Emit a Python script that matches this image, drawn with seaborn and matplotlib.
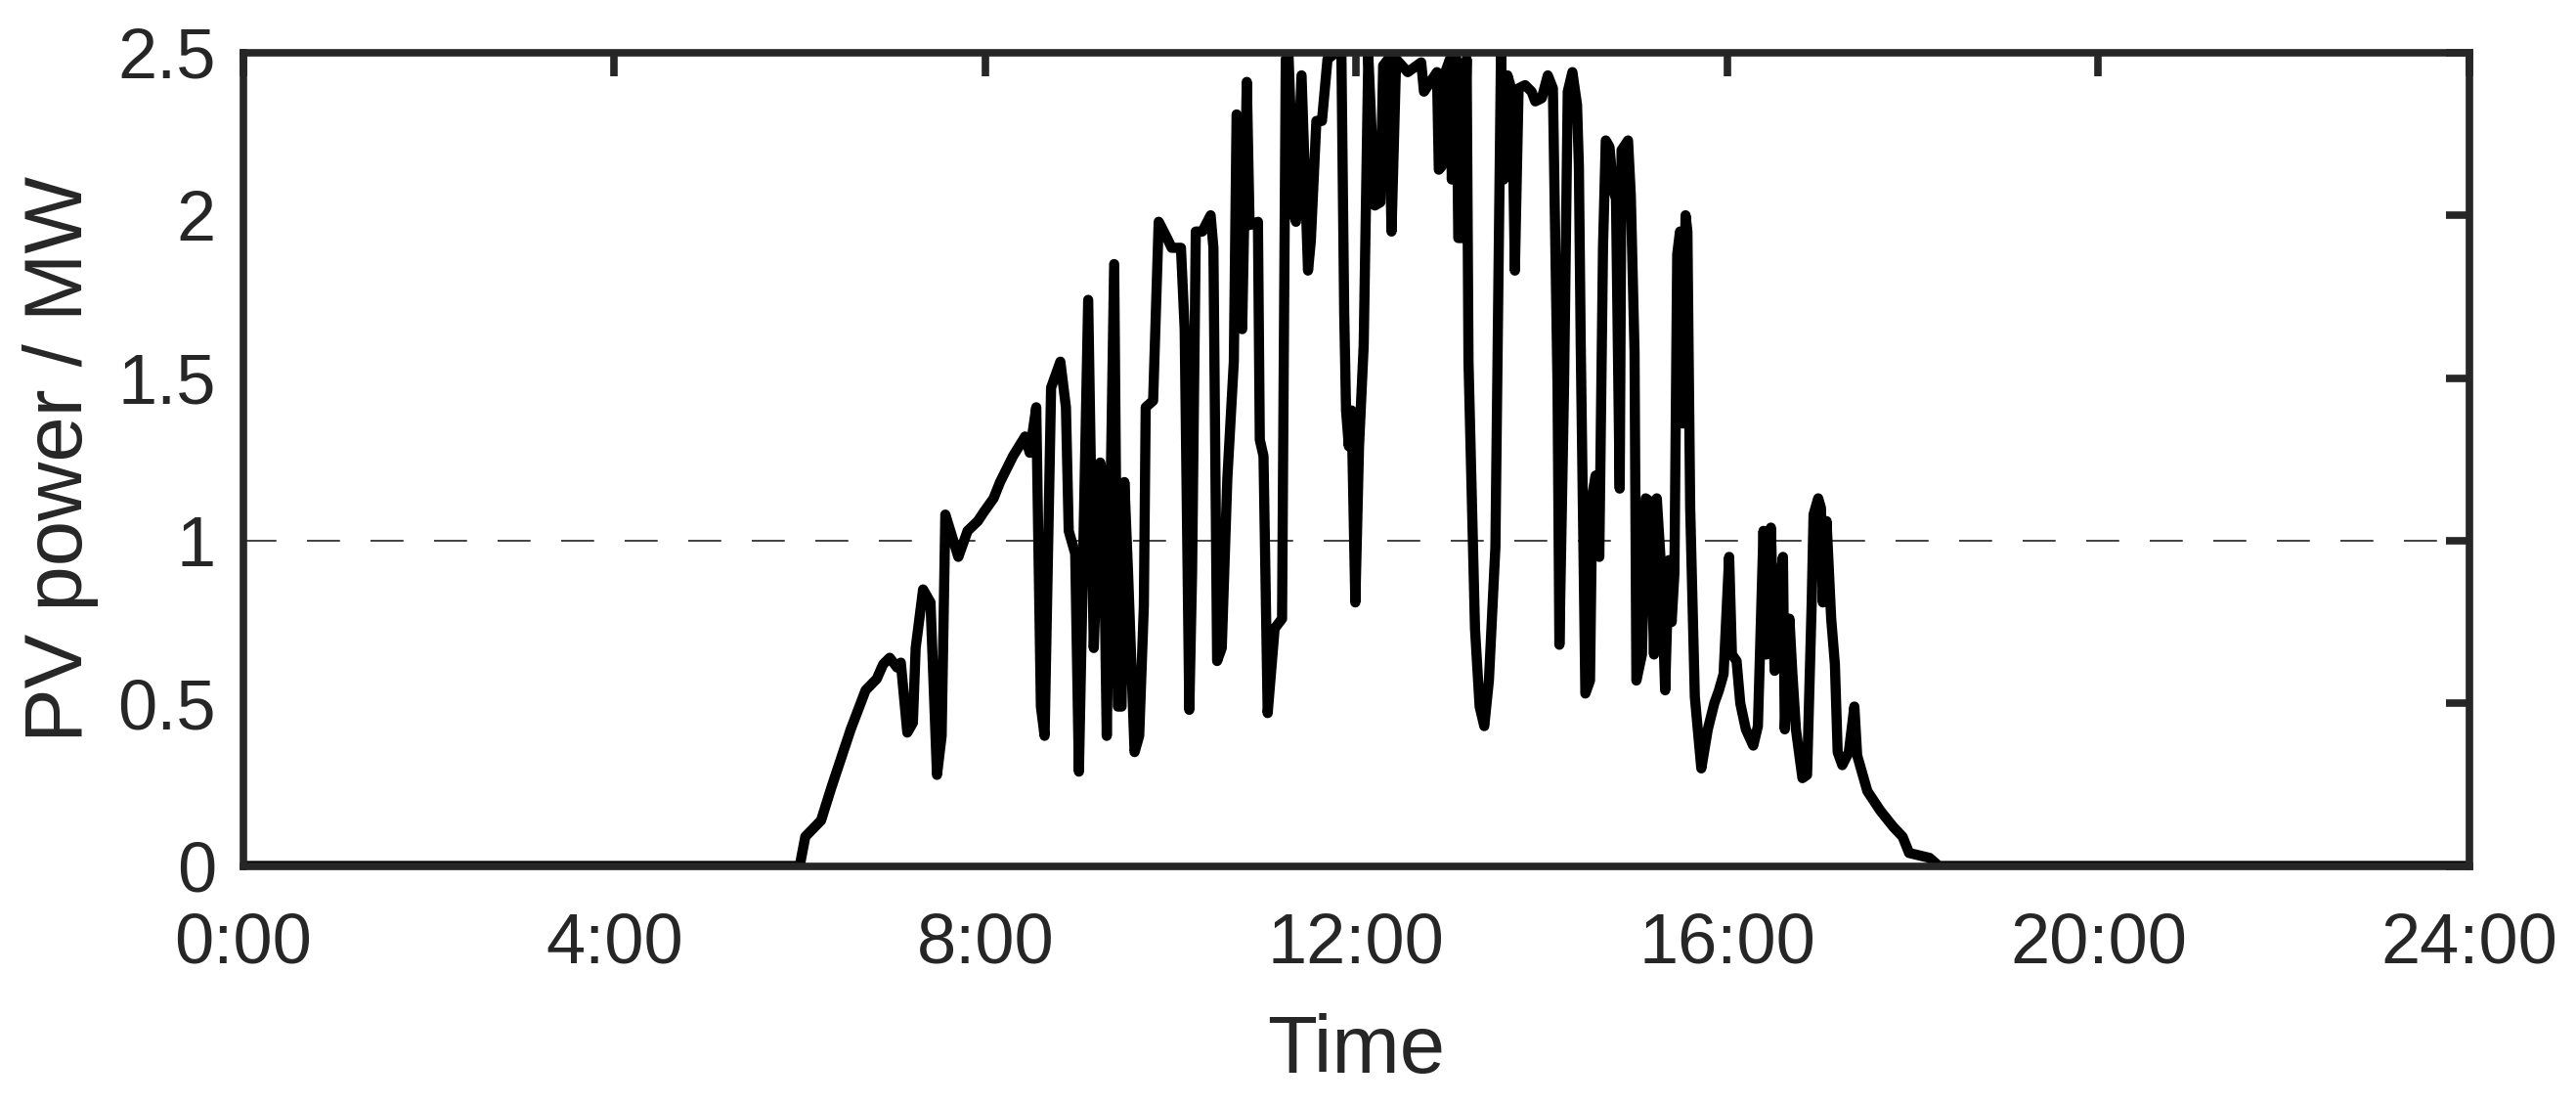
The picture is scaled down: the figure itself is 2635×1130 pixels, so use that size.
import numpy as np
import pandas as pd
import matplotlib
matplotlib.use("Agg")
import matplotlib.pyplot as plt
import seaborn as sns

# time of day in hours
hours = [
    0.0, 6.0, 6.06, 6.23, 6.34, 6.55, 6.71, 6.83, 6.90, 6.97, 7.05, 7.09, 7.16, 7.22, 7.25,
    7.33, 7.41, 7.48, 7.53, 7.57, 7.71, 7.81, 7.92, 7.99, 8.09, 8.16, 8.30, 8.43, 8.48, 8.55,
    8.60, 8.64, 8.71, 8.81, 8.87, 8.90, 8.97, 9.01, 9.11, 9.17, 9.24, 9.27, 9.31, 9.39, 9.43,
    9.47, 9.50, 9.54, 9.61, 9.66, 9.71, 9.73, 9.81, 9.87, 9.96, 10.01, 10.11, 10.15, 10.20, 10.23,
    10.27, 10.34, 10.43, 10.46, 10.50, 10.55, 10.61, 10.68, 10.71, 10.74, 10.77, 10.82, 10.85, 10.94, 10.96,
    11.00, 11.045, 11.12, 11.20, 11.24, 11.27, 11.33, 11.35, 11.41, 11.48, 11.51, 11.57, 11.63, 11.69, 11.78,
    11.84, 11.87, 11.89, 11.92, 11.95, 11.99, 12.03, 12.08, 12.13, 12.20, 12.26, 12.29, 12.345, 12.38, 12.43,
    12.555, 12.70, 12.73, 12.80, 12.87, 12.89, 12.92, 12.96, 13.01, 13.03, 13.08, 13.10, 13.15, 13.19, 13.21,
    13.28, 13.33, 13.38, 13.43, 13.50, 13.56, 13.59, 13.63, 13.68, 13.71, 13.75, 13.82, 13.89, 13.93, 14.0,
    14.065, 14.12, 14.17, 14.19, 14.24, 14.28, 14.33, 14.38, 14.40, 14.42, 14.47, 14.52, 14.545, 14.58, 14.62,
    14.66, 14.69, 14.73, 14.77, 14.80, 14.84, 14.86, 14.93, 14.96, 15.00, 15.02, 15.08, 15.12, 15.17, 15.21,
    15.24, 15.29, 15.33, 15.37, 15.40, 15.43, 15.46, 15.49, 15.52, 15.55, 15.57, 15.60, 15.65, 15.72, 15.79,
    15.86, 15.91, 15.96, 16.02, 16.05, 16.10, 16.14, 16.20, 16.28, 16.33, 16.39, 16.42, 16.47, 16.51, 16.54,
    16.60, 16.62, 16.67, 16.70, 16.74, 16.81, 16.86, 16.91, 16.93, 16.98, 17.01, 17.03, 17.07, 17.12, 17.16,
    17.19, 17.24, 17.31, 17.37, 17.40, 17.51, 17.65, 17.79, 17.89, 17.96, 18.18, 18.28, 24.0,
]

# PV power in MW
power = [
    0.0, 0.0, 0.09, 0.14, 0.24, 0.42, 0.54, 0.575, 0.62, 0.64, 0.61, 0.625, 0.41, 0.44, 0.67,
    0.85, 0.81, 0.28, 0.40, 1.08, 0.95, 1.03, 1.06, 1.09, 1.13, 1.18, 1.26, 1.32, 1.27, 1.41,
    0.49, 0.40, 1.47, 1.55, 1.41, 1.03, 0.96, 0.29, 1.74, 0.67, 1.24, 1.19, 0.40, 1.85, 0.49,
    0.49, 1.18, 0.90, 0.35, 0.40, 0.80, 1.41, 1.43, 1.98, 1.93, 1.90, 1.90, 1.65, 0.48, 0.90,
    1.95, 1.95, 2.00, 1.90, 0.63, 0.67, 1.19, 1.55, 2.31, 2.28, 1.65, 2.41, 1.97, 1.98, 1.31,
    1.26, 0.47, 0.73, 0.76, 2.48, 2.49, 2.00, 1.98, 2.43, 1.83, 1.92, 2.29, 2.29, 2.48, 2.50,
    2.49, 1.70, 1.40, 1.29, 1.40, 0.81, 1.29, 1.60, 2.49, 2.03, 2.04, 2.46, 2.48, 1.95, 2.48,
    2.44, 2.47, 2.38, 2.41, 2.44, 2.14, 2.15, 2.44, 2.48, 2.11, 2.48, 1.93, 1.93, 2.48, 1.55,
    0.73, 0.49, 0.43, 0.57, 0.98, 2.49, 2.11, 2.43, 2.38, 1.83, 2.39, 2.40, 2.38, 2.35, 2.36,
    2.43, 2.39, 1.47, 0.68, 1.47, 2.38, 2.44, 2.34, 2.15, 1.60, 0.53, 0.57, 1.14, 1.20, 0.95,
    1.90, 2.23, 2.21, 2.08, 2.05, 1.16, 2.20, 2.23, 2.06, 1.58, 0.57, 0.65, 1.13, 1.12, 0.65,
    1.13, 0.90, 0.54, 0.94, 0.75, 0.90, 1.88, 1.95, 1.36, 2.00, 1.95, 1.10, 0.52, 0.30, 0.42,
    0.50, 0.54, 0.59, 0.95, 0.65, 0.63, 0.50, 0.42, 0.37, 0.43, 1.03, 0.65, 1.04, 0.60, 0.80,
    0.95, 0.42, 0.76, 0.60, 0.42, 0.27, 0.28, 0.81, 1.08, 1.13, 1.10, 0.81, 1.06, 0.76, 0.62,
    0.35, 0.31, 0.35, 0.49, 0.34, 0.23, 0.17, 0.12, 0.09, 0.04, 0.025, 0.0, 0.0,
]

x_ticks = [0, 4, 8, 12, 16, 20, 24]
x_labels = ["0:00", "4:00", "8:00", "12:00", "16:00", "20:00", "24:00"]
y_ticks = [0, 0.5, 1, 1.5, 2, 2.5]
y_labels = ["0", "0.5", "1", "1.5", "2", "2.5"]
threshold = 1.0

df = pd.DataFrame({"Time": hours, "PV": power})

sns.set_style("white")
plt.rcParams["font.family"] = ["Liberation Sans", "DejaVu Sans"]
plt.rcParams["lines.scale_dashes"] = False

ink = "#262626"
fig = plt.figure(figsize=(26.35, 11.3), dpi=100)
ax = fig.add_axes([0.0944, 0.2163, 0.8642, 0.7361])

ax.axhline(threshold, color="0.2", lw=1.3, dashes=(24.3, 22.5), zorder=1)
sns.lineplot(data=df, x="Time", y="PV", ax=ax, color="black", lw=7.5,
             sort=False, estimator=None, zorder=2,
             solid_joinstyle="round", solid_capstyle="round")

ax.set_xlim(0, 24)
ax.set_ylim(0, 2.5)
ax.set_xticks(x_ticks)
ax.set_xticklabels(x_labels)
ax.set_yticks(y_ticks)
ax.set_yticklabels(y_labels)
ax.set_xlabel("Time", fontsize=60, color=ink, labelpad=26)
ax.set_ylabel("PV power / MW", fontsize=60, color=ink, labelpad=14)

for s in ax.spines.values():
    s.set_visible(True)
    s.set_color(ink)
    s.set_linewidth(5.5)

ax.tick_params(axis="both", direction="in", length=17, width=5.5, color=ink,
               labelsize=52, labelcolor=ink, top=True, right=True)
ax.tick_params(axis="y", pad=20)
ax.tick_params(axis="x", pad=34)

fig.savefig("out.png", dpi=100)
